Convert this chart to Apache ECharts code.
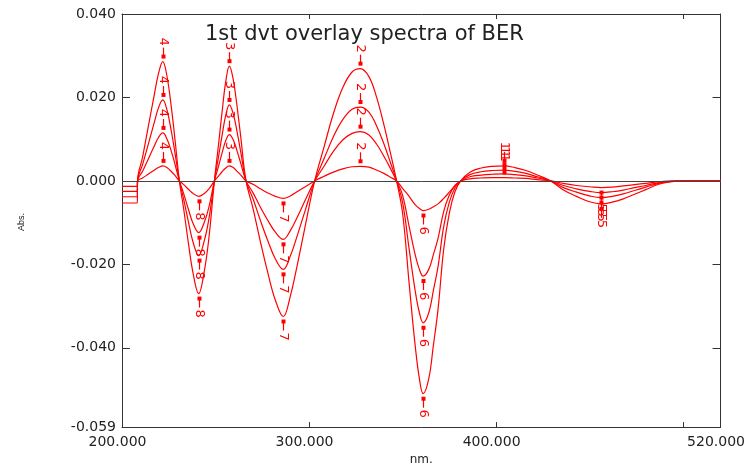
<!DOCTYPE html>
<html>
<head>
<meta charset="utf-8">
<script src="https://cdn.jsdelivr.net/npm/echarts@6/dist/echarts.min.js"></script>
<style>html,body{margin:0;padding:0;background:#fff}#chart{width:748px;height:471px}</style>
</head>
<body>
<div id="chart"></div>
<script>
// Wavelength samples (nm)
const wavelengths = [200, 208.2, 208.3, 211, 214, 217, 219.5, 221.8, 224, 226.5, 228.5, 230.7,
  233, 235.5, 238, 241, 244, 246.5, 249.4,
  251.5, 253.5, 255.5, 257.4, 259.5, 261.5, 263.5, 266.3,
  270, 274, 278, 282, 286.2, 290, 294, 298, 303,
  308, 313, 318, 323, 327.4, 332, 336, 340, 343.5, 346.8,
  350, 353.5, 356.7, 359, 361, 364, 366.5, 369, 372, 375, 378, 381.1,
  386, 392, 398, 404.3, 410, 416, 422, 429.2,
  436, 443, 450, 456.2, 462, 468, 474, 480, 487, 494, 500, 520];

// Curve A (largest)
const curveA = [-0.0053, -0.0053, 0, 0.0057, 0.0129, 0.0200, 0.0257, 0.0286, 0.0252, 0.0172, 0.0092, 0,
  -0.0068, -0.0149, -0.0221, -0.0270, -0.0216, -0.0135, 0,
  0.0083, 0.0165, 0.0239, 0.0275, 0.0242, 0.0179, 0.0105, 0,
  -0.0065, -0.0146, -0.0221, -0.0286, -0.0325, -0.0276, -0.0195, -0.0107, 0,
  0.0081, 0.0161, 0.0223, 0.0261, 0.0269, 0.0250, 0.0202, 0.0135, 0.0067, 0,
  -0.0077, -0.0245, -0.0393, -0.0474, -0.0510, -0.0474, -0.0393, -0.0306, -0.0163, -0.0077, -0.0026, 0,
  0.0021, 0.0031, 0.0035, 0.0036, 0.0032, 0.0025, 0.0014, 0,
  -0.0022, -0.0037, -0.0050, -0.0055, -0.0051, -0.0043, -0.0032, -0.0021, -0.0008, -0.0002, 0, 0];

// Curve B
const curveB = [-0.0038, -0.0038, 0, 0.0039, 0.0087, 0.0136, 0.0175, 0.0194, 0.0171, 0.0116, 0.0062, 0,
  -0.0045, -0.0098, -0.0147, -0.0179, -0.0143, -0.0090, 0,
  0.0055, 0.0109, 0.0158, 0.0182, 0.0160, 0.0118, 0.0069, 0,
  -0.0042, -0.0095, -0.0144, -0.0187, -0.0212, -0.0180, -0.0127, -0.0070, 0,
  0.0053, 0.0106, 0.0147, 0.0172, 0.0177, 0.0165, 0.0133, 0.0089, 0.0044, 0,
  -0.0051, -0.0163, -0.0262, -0.0316, -0.0340, -0.0316, -0.0262, -0.0204, -0.0109, -0.0051, -0.0017, 0,
  0.0015, 0.0022, 0.0025, 0.0026, 0.0023, 0.0018, 0.0010, 0,
  -0.0016, -0.0027, -0.0036, -0.0040, -0.0037, -0.0031, -0.0023, -0.0015, -0.0006, -0.0001, 0, 0];

// Curve C
const curveC = [-0.0025, -0.0025, 0, 0.0023, 0.0052, 0.0081, 0.0104, 0.0115, 0.0101, 0.0069, 0.0037, 0,
  -0.0031, -0.0068, -0.0102, -0.0124, -0.0099, -0.0062, 0,
  0.0033, 0.0067, 0.0097, 0.0111, 0.0098, 0.0072, 0.0042, 0,
  -0.0028, -0.0063, -0.0095, -0.0123, -0.0140, -0.0119, -0.0084, -0.0046, 0,
  0.0035, 0.0071, 0.0098, 0.0114, 0.0118, 0.0110, 0.0089, 0.0059, 0.0030, 0,
  -0.0034, -0.0109, -0.0176, -0.0212, -0.0228, -0.0212, -0.0176, -0.0137, -0.0073, -0.0034, -0.0011, 0,
  0.0010, 0.0014, 0.0016, 0.0017, 0.0015, 0.0012, 0.0007, 0,
  -0.0011, -0.0019, -0.0025, -0.0028, -0.0026, -0.0022, -0.0016, -0.0011, -0.0004, -0.0001, 0, 0];

// Curve D (smallest)
const curveD = [-0.0013, -0.0013, 0, 0.0007, 0.0016, 0.0025, 0.0032, 0.0036, 0.0032, 0.0022, 0.0012, 0,
  -0.0009, -0.0020, -0.0030, -0.0037, -0.0030, -0.0019, 0,
  0.0011, 0.0022, 0.0031, 0.0036, 0.0032, 0.0023, 0.0014, 0,
  -0.0008, -0.0019, -0.0029, -0.0037, -0.0042, -0.0036, -0.0025, -0.0014, 0,
  0.0011, 0.0021, 0.0029, 0.0034, 0.0035, 0.0033, 0.0026, 0.0018, 0.0009, 0,
  -0.0018, -0.0037, -0.0057, -0.0066, -0.0071, -0.0068, -0.0062, -0.0055, -0.0042, -0.0027, -0.0012, 0,
  0.0005, 0.0007, 0.0008, 0.0008, 0.0007, 0.0006, 0.0003, 0,
  -0.0006, -0.0011, -0.0014, -0.0016, -0.0015, -0.0012, -0.0009, -0.0006, -0.0002, 0, 0, 0];

// Peak / valley pick labels
const pickWavelengths = [221.8, 241, 257.4, 286.2, 327.4, 361, 404.3, 456.2];
const pickLabels = ['4', '8', '3', '7', '2', '6', '1', '5'];
const pickDirection = [1, -1, 1, -1, 1, -1, 1, -1];

// Axis tick labels
const xTickLabels = [200, 300, 400, 520];
const xTicks = [300, 400, 500];
const yTickLabels = [-0.059, -0.04, -0.02, 0, 0.02, 0.04];
const yTicks = [-0.04, -0.02, 0, 0.02];

const curves = [curveA, curveB, curveC, curveD];
const RED = '#ff0000';
const AXIS = '#333333';
const FONT = 'DejaVu Sans';

const pickData = [];
curves.forEach(c => {
  pickWavelengths.forEach((w, k) => {
    const idx = wavelengths.indexOf(w);
    pickData.push([w, c[idx], pickLabels[k], pickDirection[k]]);
  });
});

const lineSeries = curves.map((c, i) => ({
  type: 'line',
  name: 'curve' + i,
  data: wavelengths.map((w, j) => [w, c[j]]),
  showSymbol: false,
  smooth: 0.4,
  lineStyle: { color: RED, width: 1.2 },
  z: 3,
  silent: true,
  animation: false
}));

const axisLineStyle = { show: true, onZero: false, lineStyle: { color: AXIS, width: 1 } };

const chart = echarts.init(document.getElementById('chart'), null, { renderer: 'canvas' });
chart.setOption({
  animation: false,
  backgroundColor: '#fff',
  title: {
    text: '1st dvt overlay spectra of BER',
    left: 205, top: 24, padding: 0,
    textStyle: { fontFamily: FONT, fontSize: 21, fontWeight: 'normal', color: '#222' }
  },
  grid: { left: 122, right: 26, top: 14, bottom: 39 },
  xAxis: [{
    type: 'value', min: 200, max: 520, interval: 100,
    position: 'bottom',
    name: 'nm.', nameLocation: 'middle', nameGap: 26,
    nameTextStyle: { fontFamily: FONT, fontSize: 12, color: '#222' },
    axisLine: axisLineStyle,
    axisTick: { show: true, inside: true, length: 5, customValues: xTicks, lineStyle: { color: AXIS } },
    axisLabel: { show: true, customValues: xTickLabels, margin: 8, padding: [0, 9, 0, 0],
      fontFamily: FONT, fontSize: 14, color: '#222',
      formatter: v => v.toFixed(3) },
    splitLine: { show: false }
  }, {
    type: 'value', min: 200, max: 520, interval: 100,
    position: 'top',
    axisLine: axisLineStyle,
    axisTick: { show: true, inside: true, length: 5, customValues: xTicks, lineStyle: { color: AXIS } },
    axisLabel: { show: false },
    splitLine: { show: false }
  }],
  yAxis: [{
    type: 'value', min: -0.059, max: 0.04,
    position: 'left',
    axisLine: axisLineStyle,
    axisTick: { show: true, inside: true, length: 8, customValues: yTicks, lineStyle: { color: AXIS } },
    axisLabel: { show: true, customValues: yTickLabels, margin: 6,
      fontFamily: FONT, fontSize: 14, color: '#222',
      formatter: v => v.toFixed(3) },
    splitLine: { show: false }
  }, {
    type: 'value', min: -0.059, max: 0.04,
    position: 'right',
    axisLine: axisLineStyle,
    axisTick: { show: true, inside: true, length: 8, customValues: yTicks, lineStyle: { color: AXIS } },
    axisLabel: { show: false },
    splitLine: { show: false }
  }],
  graphic: [{
    type: 'text', x: 22, y: 222, rotation: Math.PI / 2,
    style: { text: 'Abs.', font: '9px "Liberation Sans"', fill: '#222', align: 'center', verticalAlign: 'middle' }
  }],
  series: [{
    type: 'line', name: 'zero', data: [], z: 1, silent: true,
    markLine: {
      silent: true, symbol: ['none', 'none'], label: { show: false },
      lineStyle: { color: '#444', type: 'solid', width: 1 },
      data: [{ yAxis: 0 }],
      animation: false
    }
  }].concat(lineSeries).concat([{
    type: 'custom',
    name: 'picks',
    data: pickData,
    z: 4,
    silent: true,
    renderItem: function (params, api) {
      const p = api.coord([api.value(0), api.value(1)]);
      const d = api.value(3);
      const x = Math.round(p[0]) + 0.5;
      const y = p[1];
      return {
        type: 'group',
        children: [{
          type: 'line',
          shape: { x1: x, y1: y - d * 4, x2: x, y2: y - d * 14 },
          style: { stroke: RED, lineWidth: 1.2 }
        }, {
          type: 'rect',
          shape: { x: x - 2, y: y - d * 5 - 2, width: 4, height: 4 },
          style: { fill: RED }
        }, {
          type: 'text',
          x: x, y: y - d * 20,
          rotation: -Math.PI / 2,
          style: { text: api.value(2), fill: RED, font: '13px "DejaVu Sans"', align: 'center', verticalAlign: 'middle' }
        }]
      };
    }
  }])
});
</script>
</body>
</html>
